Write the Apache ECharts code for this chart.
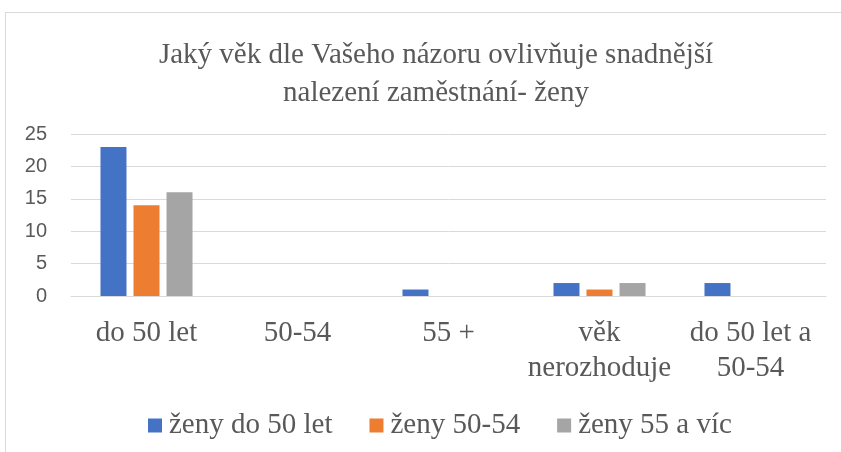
<!DOCTYPE html>
<html>
<head>
<meta charset="utf-8">
<script src="https://cdn.jsdelivr.net/npm/echarts@6/dist/echarts.min.js"></script>
<style>
  html, body { margin: 0; padding: 0; background: #fff; }
  .frame {
    position: absolute; left: 5px; top: 12px;
    width: 860px; height: 460px;
    border: 1px solid #d9d9d9;
  }
  #chart { position: absolute; left: 0; top: 0; width: 841px; height: 452px; }
</style>
</head>
<body>
<div class="frame"></div>
<div id="chart"></div>
<script>
// kategorie a hodnoty
var categories = ["do 50 let", "50-54", "55 +", "věk\nnerozhoduje", "do 50 let a\n50-54"];
var zenyDo50 = [23, 0, 1, 2, 2];
var zeny5054 = [14, 0, 0, 1, 0];
var zeny55 = [16, 0, 0, 2, 0];
var yTicks = [0, 5, 10, 15, 20, 25];

var serif = "'Liberation Serif', 'Times New Roman', serif";
var chart = echarts.init(document.getElementById("chart"));

function bar(name, data, color) {
  return {
    name: name,
    type: "bar",
    data: data,
    barWidth: 26,
    barGap: "27%",
    itemStyle: { color: color },
    emphasis: { disabled: true }
  };
}

chart.setOption({
  animation: false,
  title: {
    text: "Jaký věk dle Vašeho názoru ovlivňuje snadnější\nnalezení zaměstnání- ženy",
    left: 431,
    top: 31,
    textAlign: "center",
    textStyle: {
      fontFamily: serif,
      fontSize: 29,
      fontWeight: "normal",
      color: "#595959",
      lineHeight: 38
    }
  },
  legend: {
    top: 406,
    left: 143,
    itemWidth: 14,
    itemHeight: 14,
    itemGap: 37,
    icon: "rect",
    textStyle: { fontFamily: serif, fontSize: 29, color: "#595959", padding: [0, 0, 0, 2] },
    data: ["ženy do 50 let", "ženy 50-54", "ženy 55 a víc"]
  },
  grid: { left: 71, right: 15, top: 134, bottom: 156 },
  xAxis: {
    type: "category",
    data: categories,
    axisTick: { show: false },
    axisLine: { lineStyle: { color: "#d9d9d9", width: 1 } },
    axisLabel: {
      fontFamily: serif,
      fontSize: 29,
      color: "#595959",
      lineHeight: 35,
      margin: 20,
      interval: 0
    }
  },
  yAxis: {
    type: "value",
    min: yTicks[0],
    max: yTicks[yTicks.length - 1],
    interval: 5,
    axisLine: { show: false },
    axisTick: { show: false },
    axisLabel: {
      fontFamily: "'Liberation Sans', Arial, sans-serif",
      fontSize: 20,
      color: "#595959",
      margin: 24
    },
    splitLine: { lineStyle: { color: "#d9d9d9", width: 1 } }
  },
  series: [
    bar("ženy do 50 let", zenyDo50, "#4472c4"),
    bar("ženy 50-54", zeny5054, "#ed7d31"),
    bar("ženy 55 a víc", zeny55, "#a5a5a5")
  ]
});
</script>
</body>
</html>
